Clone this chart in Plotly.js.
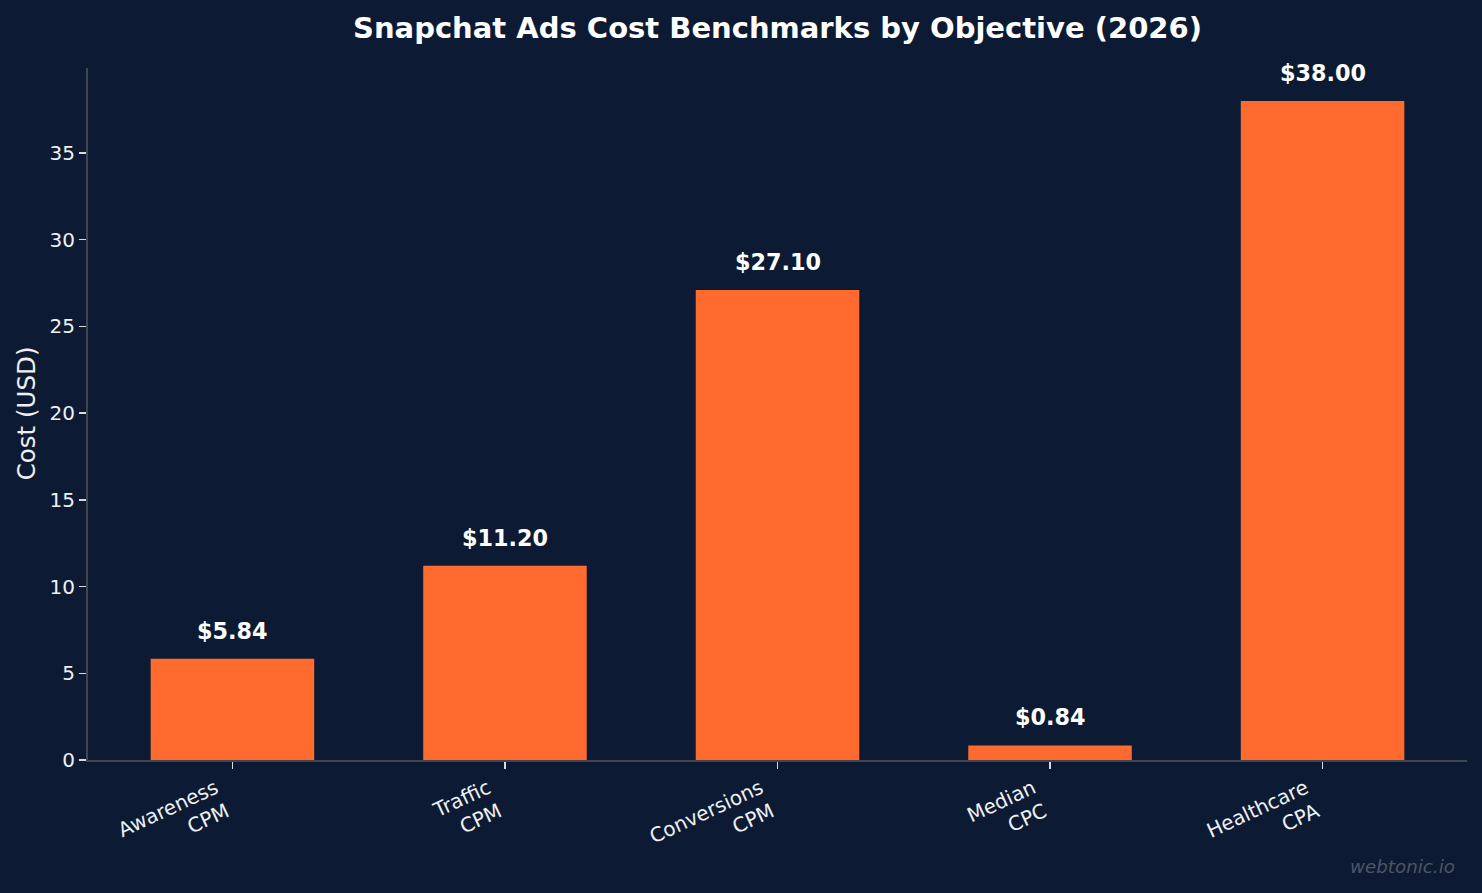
<!DOCTYPE html>
<html>
<head>
<meta charset="utf-8">
<script src="https://cdn.plot.ly/plotly-3.0.1.min.js"></script>
<style>
html,body{margin:0;padding:0;background:#0c1b33;}
#chart{width:1482px;height:893px;}
</style>
</head>
<body>
<div id="chart"></div>
<script>
const categories = ["Awareness<br>CPM", "Traffic<br>CPM", "Conversions<br>CPM", "Median<br>CPC", "Healthcare<br>CPA"];
const costs = [5.84, 11.20, 27.10, 0.84, 38.00];
const valueLabels = ["$5.84", "$11.20", "$27.10", "$0.84", "$38.00"];
const yTicks = [0, 5, 10, 15, 20, 25, 30, 35];

const xIdx = categories.map((c, i) => i);
const bg = "#0c1b33";
const fontFam = "DejaVu Sans, sans-serif";

const trace = {
  type: "bar",
  x: xIdx,
  y: costs,
  width: 0.6,
  marker: {color: "#ff6b2e", line: {width: 0}},
  hoverinfo: "skip"
};

const annotations = xIdx.map((x, i) => ({
  x: x, y: costs[i], xref: "x", yref: "y",
  text: "<b>" + valueLabels[i] + "</b>",
  showarrow: false, yanchor: "bottom", yshift: 13,
  font: {family: fontFam, size: 22.3, color: "#ffffff"}
}));
annotations.push({
  xref: "paper", yref: "paper", x: 0.9927, y: -0.1546, xanchor: "right", yanchor: "middle",
  text: "<i>webtonic.io</i>", showarrow: false,
  font: {family: fontFam, size: 18.3, color: "#4d5566"}
});
annotations.push({
  xref: "paper", yref: "paper", x: -0.045, y: 0.501, xanchor: "center", yanchor: "middle",
  text: "Cost (USD)", textangle: -90, showarrow: false,
  font: {family: fontFam, size: 24.5, color: "#eef0f3"}
});

const layout = {
  width: 1482, height: 893,
  paper_bgcolor: bg, plot_bgcolor: bg,
  margin: {l: 88, r: 15, t: 68, b: 133},
  title: {text: "<b>Snapchat Ads Cost Benchmarks by Objective (2026)</b>", x: 0.5, xref: "paper", y: 0.9686, yanchor: "middle",
          font: {family: fontFam, size: 29, color: "#ffffff"}},
  showlegend: false,
  bargap: 0.4,
  xaxis: {
    range: [-0.53, 4.53],
    tickvals: xIdx, ticktext: categories,
    tickangle: -25,
    ticklabelshift: -17,
    ticks: "outside", ticklen: 7, tickwidth: 1.5, tickcolor: "#d8dbe0",
    showline: true, linecolor: "#40464f", linewidth: 2,
    showgrid: false, zeroline: false,
    tickfont: {family: fontFam, size: 20, color: "#eef0f3"}
  },
  yaxis: {
    range: [0, 39.9],
    tickvals: yTicks,
    ticks: "outside", ticklen: 7, tickwidth: 1.5, tickcolor: "#d8dbe0",
    showline: true, linecolor: "#40464f", linewidth: 2,
    showgrid: false, zeroline: false,
    tickfont: {family: fontFam, size: 20, color: "#eef0f3"}
  },
  annotations: annotations
};

Plotly.newPlot("chart", [trace], layout, {displayModeBar: false, staticPlot: true});
</script>
</body>
</html>
